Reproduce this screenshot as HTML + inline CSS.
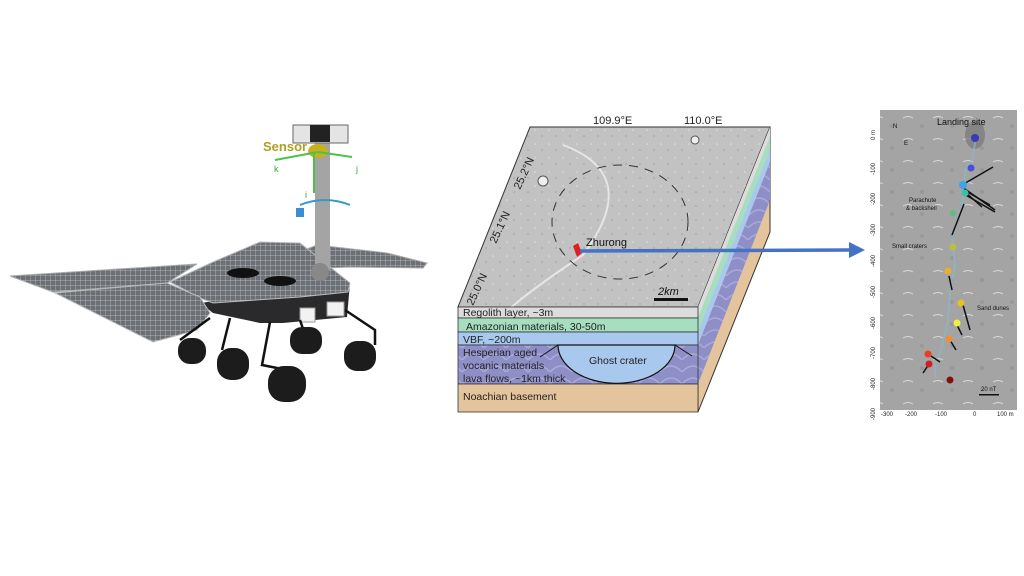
<!DOCTYPE html>
<html><head><meta charset="utf-8"><style>
html,body{margin:0;padding:0;background:#fff;}
svg{display:block;font-family:"Liberation Sans",Arial,sans-serif;}
</style></head><body>
<svg width="1024" height="576" viewBox="0 0 1024 576" xmlns="http://www.w3.org/2000/svg">
<defs>
<pattern id="grid" width="5" height="5" patternUnits="userSpaceOnUse">
<rect width="5" height="5" fill="#6c6f74"/><path d="M0 0H5M0 0V5" stroke="#c4c8cc" stroke-width="0.7"/>
</pattern>
<pattern id="waves" width="22" height="12" patternUnits="userSpaceOnUse">
<rect width="22" height="12" fill="#8f8fc8"/><path d="M0 12 Q11 0 22 12" fill="none" stroke="#a9a9da" stroke-width="1.5"/>
</pattern>
<pattern id="noise" width="14" height="14" patternUnits="userSpaceOnUse">
<rect width="14" height="14" fill="#c2c2c2"/><circle cx="3" cy="4" r="0.8" fill="#e2e2e2"/><circle cx="10" cy="10" r="0.9" fill="#a6a6a6"/>
</pattern>
<pattern id="rnoise" width="30" height="22" patternUnits="userSpaceOnUse">
<rect width="30" height="22" fill="#a4a4a4"/><path d="M3 8 q5 -3 10 0" stroke="#d8d8d8" stroke-width="1" fill="none"/><circle cx="22" cy="16" r="2" fill="#989898"/>
</pattern>
</defs>

<!-- Rover -->
<polygon points="10,276 197,264 167,283 53,292" fill="url(#grid)" stroke="#aaa" stroke-width="1"/>
<polygon points="297,253 317,245 387,253 427,263 423,268 350,267 327,268" fill="url(#grid)" stroke="#aaa"/>
<polygon points="200,303 350,283 347,317 283,323 260,323 213,313" fill="#2a2a2c"/>
<polygon points="170,282 213,262 260,242 300,243 350,283 348,292 300,297 213,303 200,298" fill="url(#grid)" stroke="#bbb"/>
<polygon points="55,293 167,283 200,297 210,313 197,330 153,342" fill="url(#grid)" stroke="#bbb"/>
<ellipse cx="243" cy="273" rx="16" ry="5" fill="#111"/>
<ellipse cx="280" cy="281" rx="16" ry="5" fill="#111"/>
<rect x="315" y="143" width="15" height="127" fill="#a4a4a4"/>
<rect x="293" y="125" width="55" height="18" fill="#e4e4e4" stroke="#666"/>
<rect x="310" y="125" width="20" height="17" fill="#222"/>
<ellipse cx="318" cy="151" rx="10" ry="7" fill="#c8b020"/>
<circle cx="320" cy="272" r="9" fill="#888"/>
<rect x="300" y="308" width="15" height="14" fill="#f2f2f2" stroke="#999"/>
<rect x="327" y="302" width="17" height="14" fill="#f2f2f2" stroke="#999"/>
<g stroke="#111" stroke-width="2.5" fill="none">
<path d="M210 318 L180 340 M230 318 L222 350 M270 322 L262 365 L287 370 M300 320 L305 335 M345 310 L375 330 L375 345"/>
</g>
<g fill="#1c1c1c">
<rect x="178" y="338" width="28" height="26" rx="12"/>
<rect x="217" y="348" width="32" height="32" rx="14"/>
<rect x="268" y="366" width="38" height="36" rx="16"/>
<rect x="290" y="327" width="32" height="27" rx="12"/>
<rect x="344" y="341" width="32" height="30" rx="13"/>
</g>
<g stroke="#4cc24c" stroke-width="2" fill="none">
<line x1="318" y1="152" x2="275" y2="160"/><line x1="318" y1="152" x2="352" y2="157"/><line x1="314" y1="152" x2="314" y2="193"/>
</g>
<text x="263" y="151" font-size="13" font-weight="bold" fill="#b0a020">Sensor</text>
<text x="274" y="172" font-size="9" fill="#3a3">k</text>
<text x="356" y="172" font-size="9" fill="#3a3">j</text>
<text x="305" y="198" font-size="9" fill="#3a3">i</text>
<path d="M300 205 q25 -10 50 0" stroke="#39c" fill="none" stroke-width="2"/>
<rect x="296" y="208" width="8" height="9" fill="#3a8fd0"/>

<!-- Block diagram -->
<polygon points="530,127 770,127 698,307 458,307" fill="url(#noise)" stroke="#333" stroke-width="1"/>
<path d="M563 145 q80 30 20 110 q-60 40 -80 60" stroke="#e6e6e6" stroke-width="2" fill="none"/>
<ellipse cx="620" cy="222" rx="68" ry="57" fill="none" stroke="#333" stroke-dasharray="9,7" stroke-width="1"/>
<circle cx="543" cy="181" r="5" fill="#eee" stroke="#555"/>
<circle cx="695" cy="140" r="4" fill="#eee" stroke="#555"/>
<polygon points="698,307 770,127 770,232 698,412" fill="#e4c49c" stroke="#333"/>
<polygon points="698,307 770,127 770,137 698,318" fill="#dcdcdc"/>
<polygon points="698,318 770,137 770,150 698,332" fill="#a6dec0"/>
<polygon points="698,332 770,150 770,162 698,345" fill="#a8c8ee"/>
<polygon points="698,345 770,162 770,200 698,384" fill="url(#waves)"/>
<rect x="458" y="307" width="240" height="11" fill="#dcdcdc" stroke="#333" stroke-width="0.8"/>
<rect x="458" y="318" width="240" height="14" fill="#a6dec0" stroke="#333" stroke-width="0.8"/>
<rect x="458" y="332" width="240" height="13" fill="#a8c8ee" stroke="#333" stroke-width="0.8"/>
<rect x="458" y="345" width="240" height="39" fill="url(#waves)" stroke="#333" stroke-width="0.8"/>
<rect x="458" y="384" width="240" height="28" fill="#e4c49c" stroke="#333" stroke-width="0.8"/>
<path d="M558 345 A58 38 0 0 0 675 345 Z" fill="#a8c8ee" stroke="#111" stroke-width="1.2"/>
<line x1="540" y1="357" x2="558" y2="345" stroke="#111"/>
<line x1="675" y1="345" x2="692" y2="356" stroke="#111"/>
<text x="463" y="316" font-size="10.5" fill="#222">Regolith layer, ~3m</text>
<text x="466" y="330" font-size="10.5" fill="#222">Amazonian materials, 30-50m</text>
<text x="463" y="343" font-size="10.5" fill="#222">VBF, ~200m</text>
<text x="463" y="356" font-size="10.5" fill="#222">Hesperian aged</text>
<text x="463" y="369" font-size="10.5" fill="#222">vocanic materials</text>
<text x="463" y="382" font-size="10.5" fill="#222">lava flows, ~1km thick</text>
<text x="463" y="400" font-size="10.5" fill="#222">Noachian basement</text>
<text x="589" y="364" font-size="10.5" fill="#222">Ghost crater</text>
<text x="593" y="124" font-size="11" fill="#222">109.9°E</text>
<text x="684" y="124" font-size="11" fill="#222">110.0°E</text>
<text font-size="11" fill="#222" transform="translate(520,190) rotate(-65)">25.2°N</text>
<text font-size="11" fill="#222" transform="translate(496,244) rotate(-65)">25.1°N</text>
<text font-size="11" fill="#222" transform="translate(473,306) rotate(-65)">25.0°N</text>
<text x="586" y="246" font-size="11" fill="#111">Zhurong</text>
<rect x="654" y="298" width="34" height="3" fill="#111"/>
<text x="658" y="295" font-size="11" font-style="italic" fill="#111">2km</text>
<polygon points="573,246 578,243 582,253 577,257" fill="#e02020"/>
<line x1="580" y1="251" x2="850" y2="250" stroke="#4472c4" stroke-width="3.5"/>
<polygon points="849,242 865,250 849,258" fill="#4472c4"/>

<!-- Right panel -->
<rect x="880" y="110" width="137" height="300" fill="url(#rnoise)"/>
<ellipse cx="975" cy="135" rx="10" ry="14" fill="#777" opacity="0.7"/>
<polyline points="976,138 972,160 965,170 965,190 960,212 952,238 955,265 950,290 948,320 942,348 935,365 935,378" fill="none" stroke="#8bc" stroke-width="2" opacity="0.6"/>
<g fill="none" stroke="#111" stroke-width="1.5">
<line x1="962" y1="185" x2="993" y2="167"/><line x1="962" y1="187" x2="995" y2="210"/><line x1="964" y1="190" x2="990" y2="205"/><line x1="965" y1="192" x2="982" y2="207"/><line x1="964" y1="194" x2="995" y2="212"/><line x1="964" y1="204" x2="952" y2="235"/>
<line x1="949" y1="276" x2="952" y2="290"/><line x1="963" y1="305" x2="970" y2="330"/><line x1="957" y1="325" x2="962" y2="335"/><line x1="950" y1="340" x2="956" y2="350"/><line x1="931" y1="356" x2="940" y2="362"/><line x1="929" y1="364" x2="923" y2="373"/>
</g>
<circle cx="975" cy="138" r="4" fill="#3a3ab8"/>
<circle cx="971" cy="168" r="3.5" fill="#4c4ce0"/>
<circle cx="963" cy="185" r="4" fill="#3aa8e8"/>
<circle cx="965" cy="193" r="3.5" fill="#3ac0a8"/>
<circle cx="953" cy="213" r="3" fill="#5ac080"/>
<circle cx="953" cy="247" r="3.5" fill="#b8c040"/>
<circle cx="948" cy="271" r="3.5" fill="#e8b030"/>
<circle cx="961" cy="303" r="3.5" fill="#e8c020"/>
<circle cx="957" cy="323" r="3.5" fill="#f0f040"/>
<circle cx="949" cy="339" r="3.5" fill="#f09030"/>
<circle cx="928" cy="354" r="3.5" fill="#e84020"/>
<circle cx="929" cy="364" r="3.5" fill="#d02020"/>
<circle cx="950" cy="380" r="3.5" fill="#801010"/>
<text x="937" y="125" font-size="9" fill="#111">Landing site</text>
<text x="893" y="128" font-size="6" fill="#111">N</text><text x="904" y="145" font-size="6" fill="#111">E</text>
<text x="909" y="202" font-size="6" fill="#111">Parachute</text><text x="906" y="210" font-size="6" fill="#111">&amp; backshell</text>
<text x="892" y="248" font-size="6" fill="#111">Small craters</text>
<text x="977" y="310" font-size="6" fill="#111">Sand dunes</text>
<rect x="979" y="394" width="20" height="1.5" fill="#111"/><text x="981" y="391" font-size="6" fill="#111">20 nT</text>
<g font-size="6" fill="#222">
<text transform="translate(875,140) rotate(-90)">0 m</text>
<text transform="translate(875,175) rotate(-90)">-100</text>
<text transform="translate(875,205) rotate(-90)">-200</text>
<text transform="translate(875,236) rotate(-90)">-300</text>
<text transform="translate(875,267) rotate(-90)">-400</text>
<text transform="translate(875,298) rotate(-90)">-500</text>
<text transform="translate(875,329) rotate(-90)">-600</text>
<text transform="translate(875,359) rotate(-90)">-700</text>
<text transform="translate(875,390) rotate(-90)">-800</text>
<text transform="translate(875,420) rotate(-90)">-900</text>
<text x="881" y="416">-300</text><text x="905" y="416">-200</text><text x="935" y="416">-100</text><text x="973" y="416">0</text><text x="997" y="416">100 m</text>
</g>
</svg>
</body></html>
